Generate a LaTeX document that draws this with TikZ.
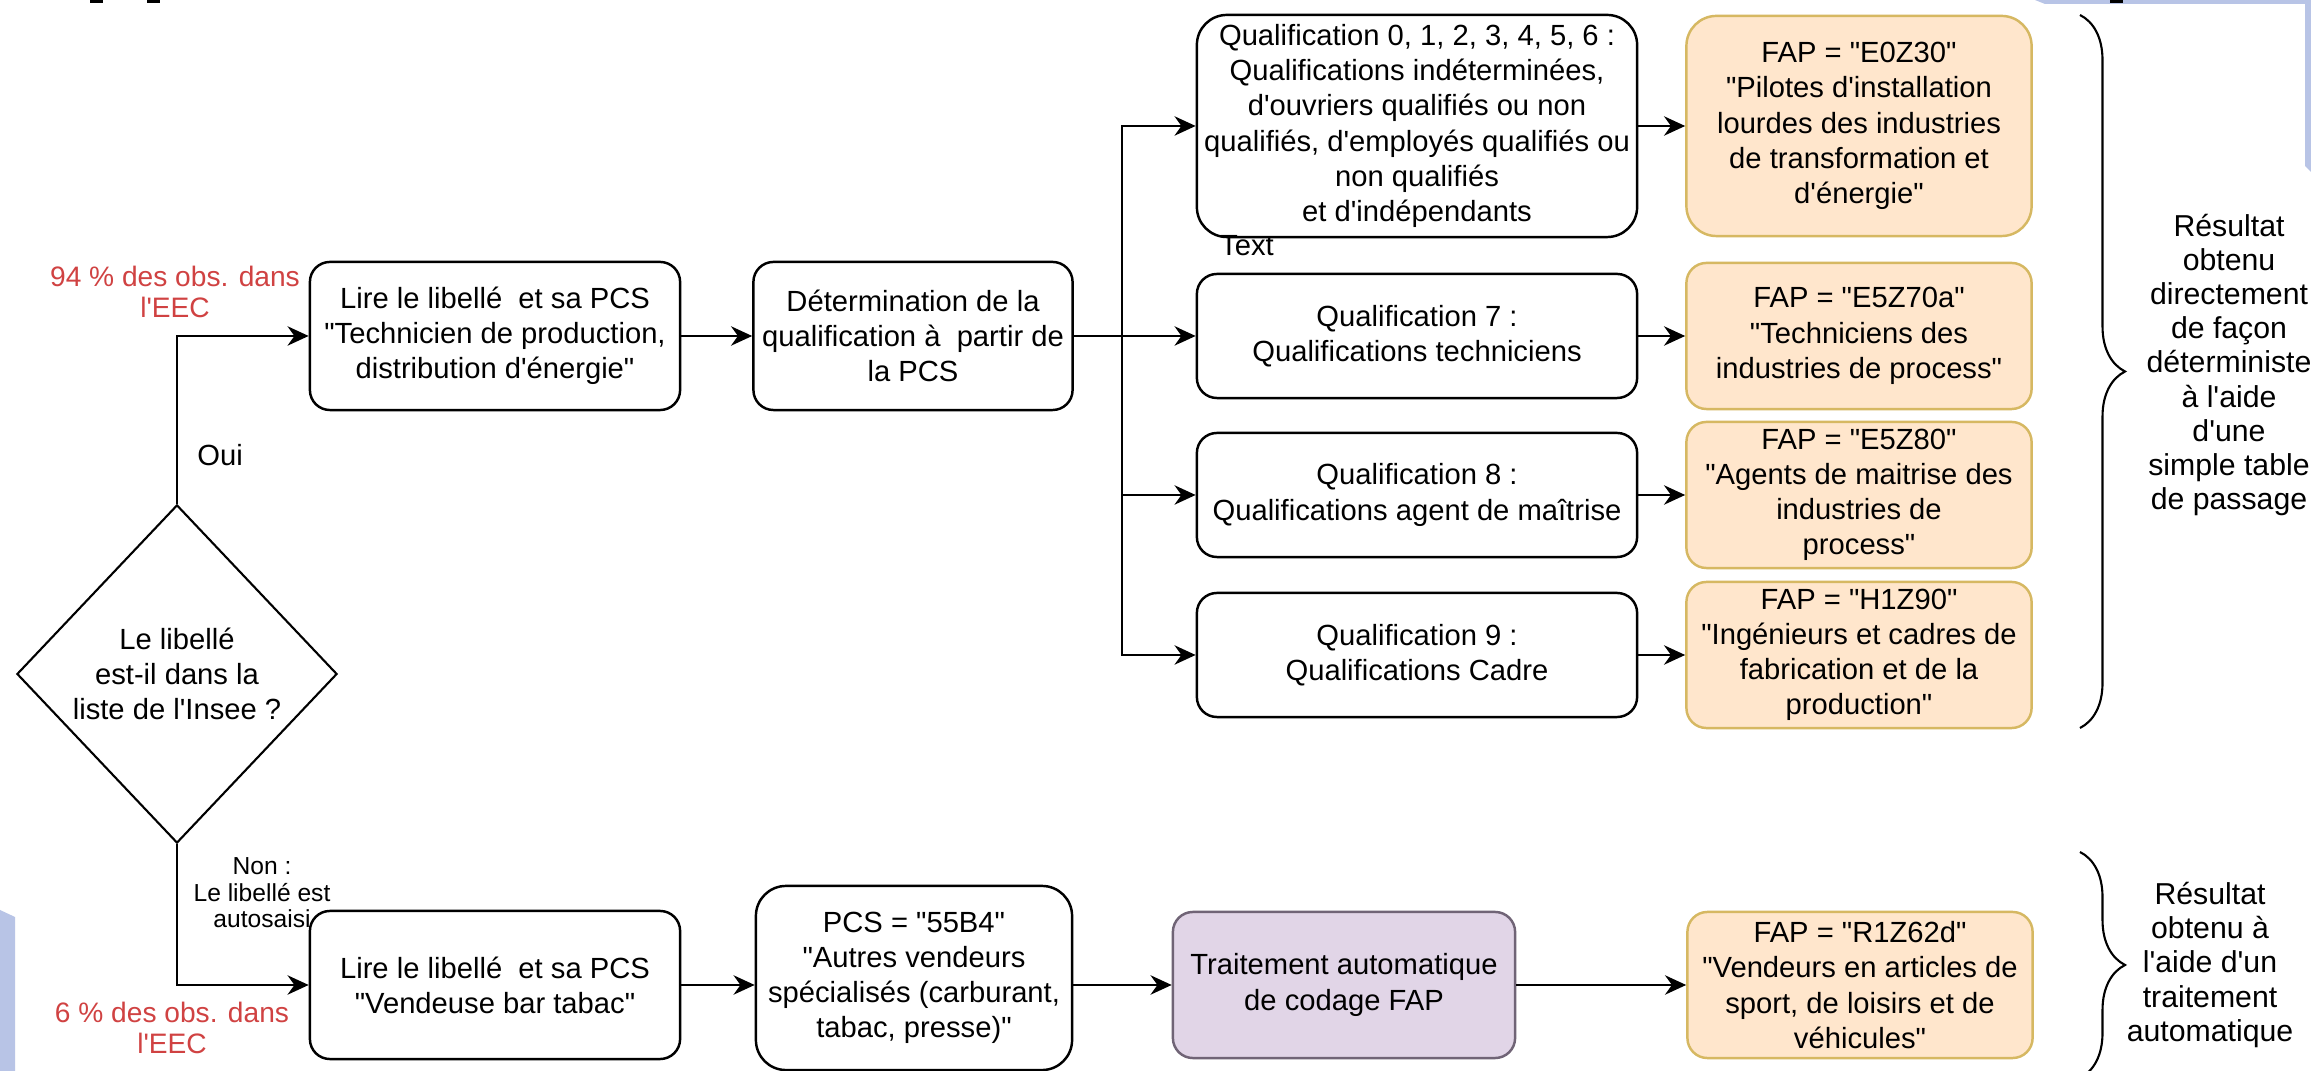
\documentclass[tikz,border=0pt]{standalone}
\usepackage{fontspec}
\usepackage{tikz}
\usetikzlibrary{shapes.geometric,arrows.meta,decorations.pathreplacing}

\newfontfamily\diagfont{Liberation Sans}
\newcommand{\boxfont}{\diagfont\fontsize{8.3}{10}\selectfont}
\newcommand{\notefont}{\diagfont\fontsize{7}{7.5}\selectfont}
\newcommand{\sidefont}{\diagfont\fontsize{8.6}{9.7}\selectfont}

\definecolor{fapfill}{RGB}{255,230,204}
\definecolor{fapline}{RGB}{214,184,98}
\definecolor{autofill}{RGB}{225,213,231}
\definecolor{autoline}{RGB}{112,100,118}
\definecolor{obsred}{RGB}{208,66,66}
\definecolor{panelblue}{RGB}{184,196,230}

\begin{document}
\begin{tikzpicture}[x=0.01cm, y=-0.01cm,
  every node/.style={font=\boxfont},
  box/.style={draw, line width=0.7pt, rounded corners=0.2cm, align=center, inner sep=1pt},
  stepbox/.style={box, minimum width=3.7cm, minimum height=1.48cm},
  qualbox/.style={box, minimum width=4.4cm, minimum height=1.24cm},
  fapbox/.style={box, fill=fapfill, draw=fapline, minimum width=3.45cm, minimum height=1.46cm},
  decision/.style={diamond, draw, line width=0.6pt, align=center, inner sep=0pt, minimum width=3.2cm, minimum height=3.38cm},
  obs/.style={text=obsred, align=center, font=\diagfont\fontsize{8}{9}\selectfont},
  arr/.style={-{Stealth[length=6pt,width=5.5pt]}, line width=0.7pt},
  accolade/.style={decorate, decoration={brace, amplitude=0.45cm}, line width=0.6pt}
]
\useasboundingbox (0,0) rectangle (2311,1071);
\fill[white] (0,0) rectangle (2311,1071);

% bords de la capture
\fill[panelblue] (2035,0) -- (2311,0) -- (2311,172) -- (2305,166) -- (2305,4) -- (2045,4) -- cycle;
\fill[panelblue] (0,910) -- (15,917) -- (15,1071) -- (0,1071) -- cycle;
\fill (90,0) rectangle (103,3);
\fill (147,0) rectangle (160,3);
\fill (2110,0) rectangle (2123,3);

% question de depart
\node[decision] (choix) at (177,674) {Le libellé\\est-il dans la\\liste de l'Insee ?};

% branche haute
\node[stepbox] (lireA) at (495,336) {Lire le libellé\ \ et sa PCS\\"Technicien de production,\\distribution d'énergie"};
\node[box, minimum width=3.19cm, minimum height=1.48cm] (qualif) at (913,336) {Détermination de la\\qualification à\ \ partir de\\la PCS};

\node[qualbox, minimum height=2.22cm, rounded corners=0.3cm] (q0) at (1417,126) {Qualification 0, 1, 2, 3, 4, 5, 6 :\\Qualifications indéterminées,\\d'ouvriers qualifiés ou non\\qualifiés, d'employés qualifiés ou\\non qualifiés\\et d'indépendants};
\node[qualbox] (q7) at (1417,336) {Qualification 7 :\\Qualifications techniciens};
\node[qualbox] (q8) at (1417,495) {Qualification 8 :\\Qualifications agent de maîtrise};
\node[qualbox] (q9) at (1417,655) {Qualification 9 :\\Qualifications Cadre};

\node[fapbox, minimum height=2.2cm, rounded corners=0.3cm] (e0z30) at (1859,126) {FAP = "E0Z30"\\"Pilotes d'installation\\lourdes des industries\\de transformation et\\d'énergie"};
\node[fapbox] (e5z70a) at (1859,336) {FAP = "E5Z70a"\\"Techniciens des\\industries de process"};
\node[fapbox] (e5z80) at (1859,495) {FAP = "E5Z80"\\"Agents de maitrise des\\industries de\\process"};
\node[fapbox] (h1z90) at (1859,655) {FAP = "H1Z90"\\"Ingénieurs et cadres de\\fabrication et de la\\production"};

\node (stray) at (1247,246) {Text};

% branche basse
\node[stepbox] (lireB) at (495,985) {Lire le libellé\ \ et sa PCS\\"Vendeuse bar tabac"};
\node[box, minimum width=3.16cm, minimum height=1.84cm, rounded corners=0.3cm] (pcs) at (914,978) {PCS = "55B4"\\"Autres vendeurs\\spécialisés (carburant,\\tabac, presse)"};
\node[box, fill=autofill, draw=autoline, minimum width=3.42cm, minimum height=1.46cm] (trait) at (1344,985) {Traitement automatique\\de codage FAP};
\node[fapbox] (r1z62d) at (1860,985) {FAP = "R1Z62d"\\"Vendeurs en articles de\\sport, de loisirs et de\\véhicules"};

% etiquettes
\node[obs] (obsA) at (175,292) {94 \% des obs. dans\\l'EEC};
\node[anchor=west] (oui) at (185,455) {Oui};
\node[align=center, font=\notefont] (non) at (262,893) {Non :\\Le libellé est\\autosaisi};
\node[obs] (obsB) at (172,1028) {6 \% des obs. dans\\l'EEC};

\node[align=center, font=\sidefont] (resA) at (2229,365) {Résultat\\obtenu\\directement\\de façon\\déterministe\\à l'aide\\d'une\\simple table\\de passage};
\node[align=center, font=\sidefont] (resB) at (2210,965) {Résultat\\obtenu à\\l'aide d'un\\traitement\\automatique};

% liaisons
\draw[arr] (choix.north) |- (lireA.west);
\draw[arr] (choix.south) |- (lireB.west);
\draw[arr] (lireA) -- (qualif);

\coordinate (bus) at (1122,336);
\draw[line width=0.7pt] (qualif) -- (bus);
\draw[arr] (bus) |- (q0);
\draw[arr] (bus) -- (q7);
\draw[arr] (bus) |- (q8);
\draw[arr] (bus) |- (q9);

\foreach \q/\f in {q0/e0z30, q7/e5z70a, q8/e5z80, q9/h1z90}
  \draw[arr] (\q) -- (\f);

\draw[arr] (lireB) -- (pcs.west |- lireB);
\draw[arr] (pcs.east |- trait) -- (trait);
\draw[arr] (trait) -- (r1z62d);

% accolades
\draw[accolade] (2080,15) -- (2080,728);
\draw[accolade] (2080,852) -- (2080,1078);
\end{tikzpicture}
\end{document}
